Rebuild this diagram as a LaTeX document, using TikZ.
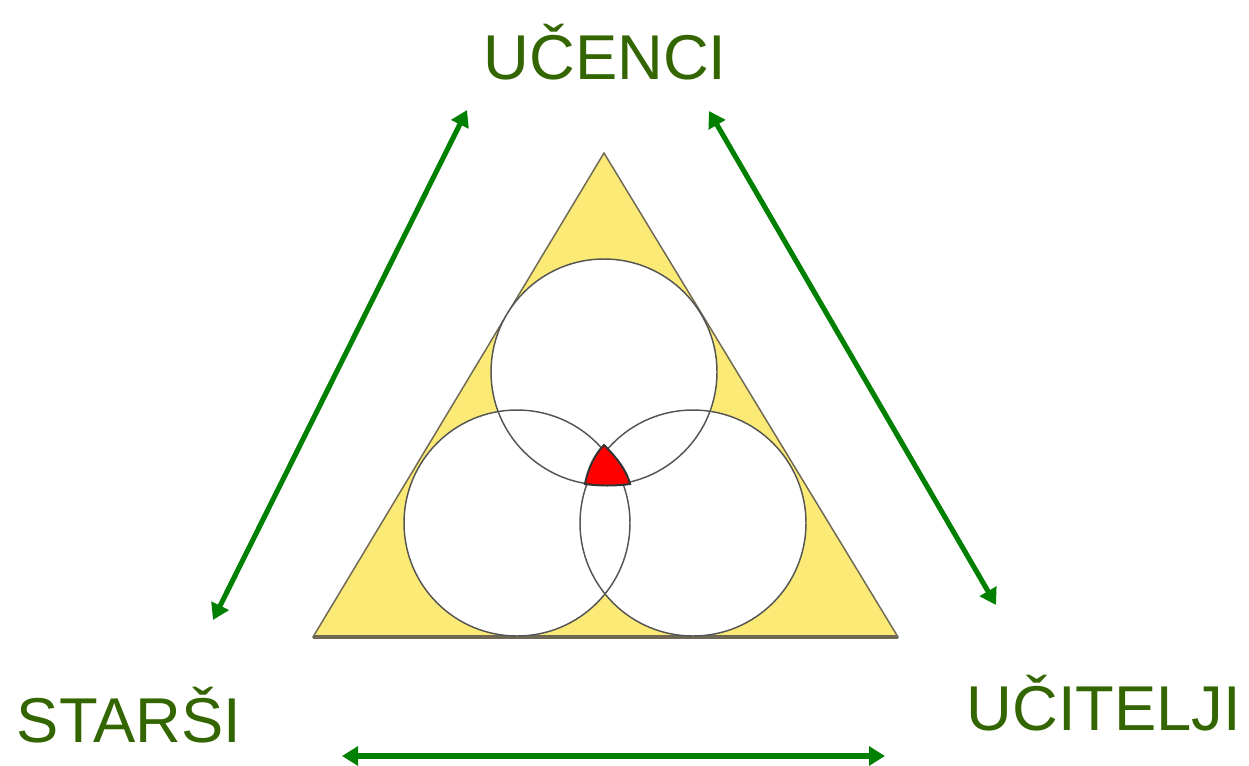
\documentclass[tikz,border=0pt]{standalone}
\usepackage{fontspec}
\setmainfont{Liberation Sans}
\usetikzlibrary{arrows.meta}
\definecolor{labelgreen}{RGB}{51,102,0}
\definecolor{arrowgreen}{RGB}{0,128,0}
\definecolor{triyellow}{RGB}{251,235,118}
\definecolor{triedge}{RGB}{110,104,84}
\definecolor{ringgray}{RGB}{85,85,85}
\tikzset{
  role/.style={text=labelgreen,font=\fontsize{47.5}{56}\selectfont},
  link/.style={draw=arrowgreen,line width=3.8pt,{Triangle[length=12pt,width=14pt]}-{Triangle[length=12pt,width=14pt]}},
  ring/.style={draw=ringgray,line width=1.1pt}
}

\begin{document}
\begin{tikzpicture}[x=0.75pt,y=0.75pt,yscale=-1,xscale=1]
\useasboundingbox (0,0) rectangle (1249,765);

% Triangle
\coordinate (apex) at (604,153);
\coordinate (bl) at (313,637);
\coordinate (br) at (898,637);
\draw [fill=triyellow,draw=triedge,line width=1.1pt] (apex) -- (bl) -- (br) -- cycle ;
\draw [draw=triedge,line width=2.4pt] (bl) -- (br) ;

% Circles
\coordinate (ctop) at (604,372);
\coordinate (cleft) at (517,523);
\coordinate (cright) at (693,523);
\fill [white] (ctop) circle (113) ;
\fill [white] (cleft) circle (113) ;
\fill [white] (cright) circle (113) ;
\draw [ring] (ctop) circle (113) ;
\draw [ring] (cleft) circle (113) ;
\draw [ring] (cright) circle (113) ;

% Common part
\draw [fill=red,draw=ringgray!60!black,line width=1.5pt] (585,484) .. controls (588,468) and (595,454) .. (604,445) .. controls (613,454) and (626,468) .. (630,484) .. controls (615,486) and (600,486) .. cycle ;

% Text Node
\node [role] (ucenci) at (605,52) {UČENCI};
% Text Node
\node [role] (starsi) at (129,715) {STARŠI};
% Text Node
\node [role] (ucitelji) at (1104,703) {UČITELJI};

% Arrows
\coordinate (lefta) at (213,620);
\coordinate (leftb) at (467,110);
\coordinate (righta) at (709,111);
\coordinate (rightb) at (996,605);
\coordinate (bota) at (342,756);
\coordinate (botb) at (885,756);
\draw [link] (lefta) -- (leftb) ;
\draw [link] (righta) -- (rightb) ;
\draw [link] (bota) -- (botb) ;

\end{tikzpicture}
\end{document}
